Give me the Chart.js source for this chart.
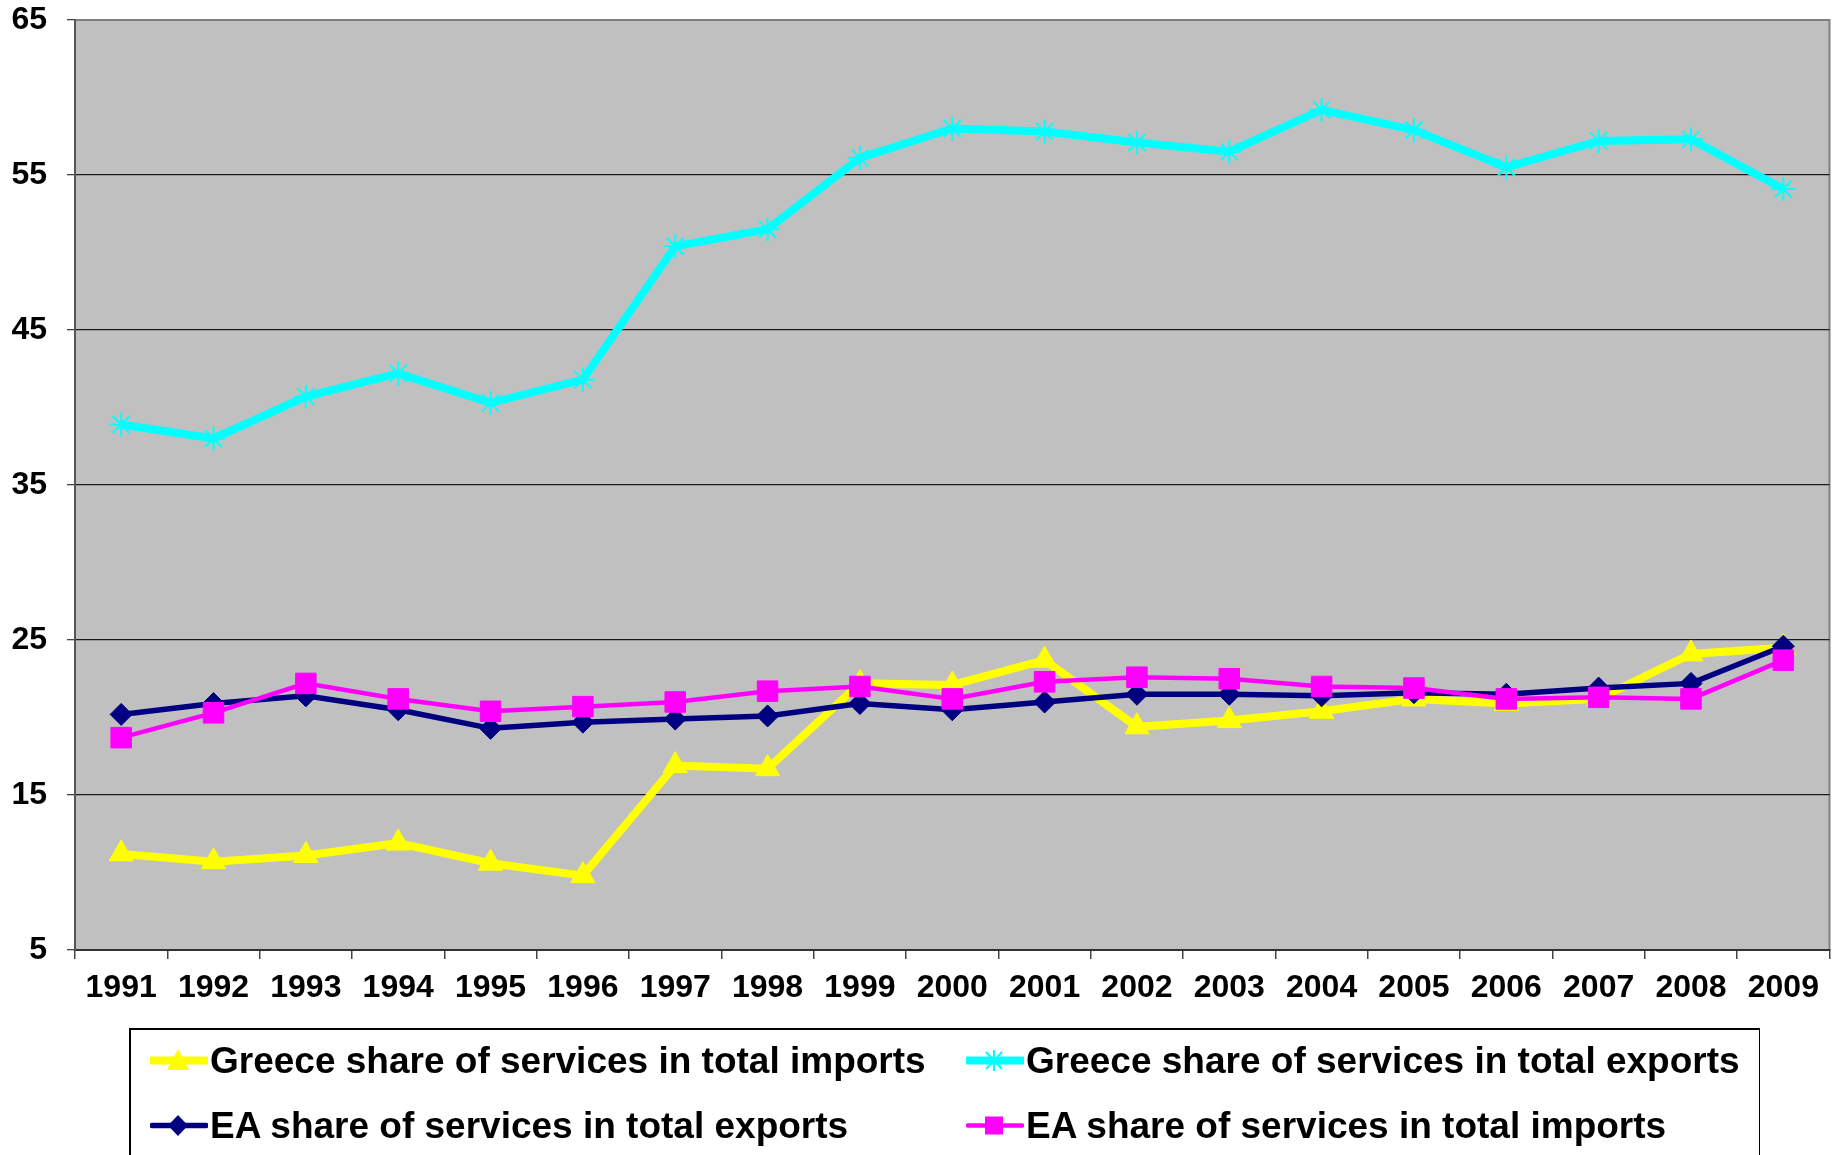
<!DOCTYPE html>
<html>
<head>
<meta charset="utf-8">
<script src="https://cdn.jsdelivr.net/npm/chart.js@4.4.1/dist/chart.umd.min.js"></script>
<style>
  html, body { margin: 0; padding: 0; background: #fff; overflow: hidden; }
  #wrap { position: relative; width: 1845px; height: 1155px; }
  #legend {
    position: absolute; left: 129px; top: 1028px; width: 1631px; height: 200px;
    border-top: 2px solid #000; border-left: 2px solid #000; border-right: 1px solid #000;
    box-sizing: border-box;
  }
  .item { position: absolute; height: 37px; }
  .item svg { position: absolute; left: 0; top: 0; }
  .item span {
    position: absolute; white-space: nowrap;
    font: bold 37px "Liberation Sans", Arial, sans-serif; line-height: 37px; color: #000;
  }
</style>
</head>
<body>
<div id="wrap">
  <canvas id="servicesChart" width="1845" height="1155"></canvas>
  <div id="legend"></div>
</div>
<script>
// years on the x axis
var years = ['1991', '1992', '1993', '1994', '1995', '1996', '1997', '1998', '1999', '2000',
             '2001', '2002', '2003', '2004', '2005', '2006', '2007', '2008', '2009'];

// values (%)
var greeceImports = [11.2, 10.7, 11.1, 11.9, 10.6, 9.8, 16.9, 16.7, 22.2, 22.1,
                     23.7, 19.4, 19.8, 20.4, 21.2, 20.9, 21.2, 24.1, 24.5];
var greeceExports = [38.9, 38.0, 40.7, 42.2, 40.3, 41.8, 50.4, 51.5, 56.1, 58.0,
                     57.8, 57.1, 56.5, 59.2, 57.9, 55.5, 57.2, 57.3, 54.1];
var eaExports = [20.2, 20.9, 21.4, 20.5, 19.3, 19.7, 19.9, 20.1, 20.9, 20.5,
                 21.0, 21.5, 21.5, 21.4, 21.6, 21.5, 21.9, 22.2, 24.6];
var eaImports = [18.7, 20.3, 22.2, 21.2, 20.4, 20.7, 21.0, 21.7, 22.0, 21.2,
                 22.3, 22.6, 22.5, 22.0, 21.9, 21.2, 21.3, 21.2, 23.7];

var yTicks = [5, 15, 25, 35, 45, 55, 65];

var seriesLabels = [
    'Greece share of services in total imports',
    'Greece share of services in total exports',
    'EA share of services in total exports',
    'EA share of services in total imports'
];

var FONT = '"Liberation Sans", Arial, sans-serif';

// grey plot background + grey frame on top and right
var plotBackground = {
    id: 'plotBackground',
    beforeDraw: function (chart) {
        var a = chart.chartArea, ctx = chart.ctx;
        ctx.save();
        ctx.fillStyle = '#C0C0C0';
        ctx.fillRect(a.left, a.top, a.right - a.left, a.bottom - a.top);
        ctx.strokeStyle = '#808080';
        ctx.lineWidth = 2;
        ctx.beginPath();
        ctx.moveTo(a.left, a.top);
        ctx.lineTo(a.right, a.top);
        ctx.lineTo(a.right, a.bottom);
        ctx.stroke();
        ctx.restore();
    }
};

var ctx = document.getElementById('servicesChart').getContext('2d');
var servicesChart = new Chart(ctx, {
    type: 'line',
    data: {
        labels: years,
        datasets: [{
            label: seriesLabels[0],
            data: greeceImports,
            borderColor: '#FFFF00',
            backgroundColor: '#FFFF00',
            borderWidth: 8,
            pointStyle: 'triangle',
            pointRadius: 14,
            pointBorderWidth: 1,
            order: 4
        }, {
            label: seriesLabels[1],
            data: greeceExports,
            borderColor: '#00FFFF',
            backgroundColor: '#00FFFF',
            borderWidth: 8,
            pointStyle: 'star',
            pointRadius: 12,
            pointBorderWidth: 2,
            order: 3
        }, {
            label: seriesLabels[2],
            data: eaExports,
            borderColor: '#000080',
            backgroundColor: '#000080',
            borderWidth: 5.5,
            pointStyle: 'rectRot',
            pointRadius: 11,
            pointBorderWidth: 1,
            order: 2
        }, {
            label: seriesLabels[3],
            data: eaImports,
            borderColor: '#FF00FF',
            backgroundColor: '#FF00FF',
            borderWidth: 4.5,
            pointStyle: 'rect',
            pointRadius: 14.5,
            pointBorderWidth: 1,
            order: 1
        }]
    },
    options: {
        responsive: false,
        animation: false,
        layout: { padding: { left: 0, top: 20, right: 13, bottom: 135 } },
        elements: { line: { tension: 0 } },
        plugins: {
            legend: { display: false },
            tooltip: { enabled: false }
        },
        scales: {
            x: {
                offset: true,
                afterFit: function (scale) { scale.height = 70; },
                grid: {
                    offset: true,
                    drawOnChartArea: false,
                    drawTicks: true,
                    tickLength: 9,
                    color: '#444',
                    lineWidth: 1.5
                },
                border: { display: true, color: '#333', width: 2 },
                ticks: {
                    color: '#000',
                    padding: 10,
                    maxRotation: 0,
                    autoSkip: false,
                    font: { family: FONT, size: 32, weight: 'bold' }
                }
            },
            y: {
                min: 5,
                max: 65,
                afterFit: function (scale) {
                    scale.width = 75;
                    scale.paddingTop = 0;
                    scale.paddingBottom = 0;
                },
                afterBuildTicks: function (scale) {
                    scale.ticks = yTicks.map(function (v) { return { value: v }; });
                },
                grid: {
                    color: function (c) { return c.tick && c.tick.value === 65 ? '#808080' : '#1a1a1a'; },
                    lineWidth: 1.3,
                    tickLength: 8,
                    tickColor: '#444'
                },
                border: { display: true, color: '#555', width: 2 },
                ticks: {
                    color: '#000',
                    padding: 20,
                    font: { family: FONT, size: 32, weight: 'bold' }
                }
            }
        }
    },
    plugins: [plotBackground]
});

// legend: two columns, two rows, line + marker in front of each label
var legendPlaces = [
    { x: 150, y: 1060 },
    { x: 966, y: 1060 },
    { x: 150, y: 1125 },
    { x: 966, y: 1125 }
];

function markerSvg(ds) {
    var c = ds.borderColor, w = ds.borderWidth;
    var s = '<svg width="58" height="37" viewBox="0 0 58 37">';
    s += '<line x1="2" y1="18.5" x2="56" y2="18.5" stroke="' + c + '" stroke-width="' + w + '" stroke-linecap="round"/>';
    if (ds.pointStyle === 'triangle') {
        s += '<polygon points="28,7 39,28 17,28" fill="' + c + '"/>';
    } else if (ds.pointStyle === 'star') {
        s += '<path d="M20,10 L36,27 M36,10 L20,27 M28,8 L28,29" stroke="' + c + '" stroke-width="2"/>';
    } else if (ds.pointStyle === 'rectRot') {
        s += '<polygon points="28,8 38,18.5 28,29 18,18.5" fill="' + c + '"/>';
    } else {
        s += '<rect x="19" y="9.5" width="18" height="18" fill="' + c + '"/>';
    }
    return s + '</svg>';
}

var legendBox = document.getElementById('legend');
var boxLeft = 129, boxTop = 1028;
servicesChart.data.datasets.forEach(function (ds, i) {
    var p = legendPlaces[i];
    var item = document.createElement('div');
    item.className = 'item';
    item.style.left = (p.x - boxLeft - 2) + 'px';
    item.style.top = (p.y - 18 - boxTop - 2) + 'px';
    item.innerHTML = markerSvg(ds) + '<span style="left:60px;top:0">' + ds.label + '</span>';
    legendBox.appendChild(item);
});
</script>
</body>
</html>
